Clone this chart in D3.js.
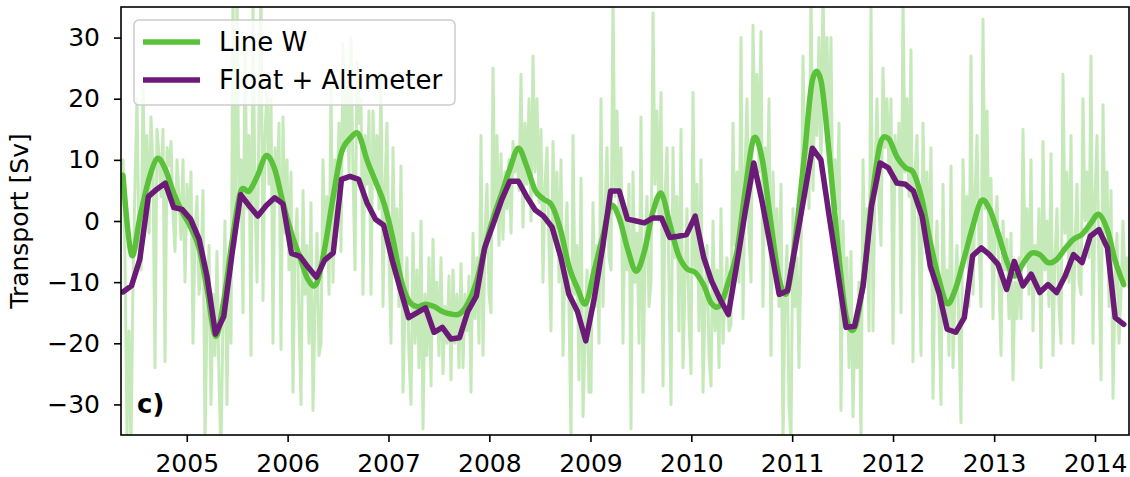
<!DOCTYPE html>
<html>
<head>
<meta charset="utf-8">
<script src="https://cdn.jsdelivr.net/npm/d3@7"></script>
<style>
  body { margin: 0; background: #fff; }
  svg { display: block; font-family: "DejaVu Sans", sans-serif; }
</style>
</head>
<body>
<div id="chart"></div>
<script>
// monthly series, May 2004 .. Apr 2014 (mid-month)
var lineWSmooth = [
  7.5, -5.5, 0.5, 6.5, 10.2, 8.5, 4.5, 1.5,
  -1, -4.5, -11, -18.8, -13, -3, 4.8, 4.9, 7.5, 10.7, 8.5, 3,
  -2, -6, -9.5, -10.3, -4.5, 4, 11.2, 13.5, 14.2, 10, 6.5, 3,
  -2.5, -9.5, -13, -14, -13.6, -14, -14.8, -15.2, -15.2, -13.5, -10, -4.5,
  0.5, 4.5, 8.5, 11.9, 9, 5, 3.6, 2.5, -1.5, -7.4, -11, -13.5,
  -8, -2.5, 2.5, 0.5, -4.5, -8.2, -5, 1.5, 4.5, -0.5, -5.5, -7.8,
  -8.4, -10.5, -13.5, -13.8, -10, -5, 5, 13.5, 10, 0, -9.5, -11.5,
  -2, 11, 23, 23, 11, -4, -15.5, -17.5, -10, 3, 12.5, 13.5,
  10.5, 8.7, 7.9, 3.5, -3.5, -9.5, -13.5, -11, -6, -1, 3.3, 2,
  -2, -6.5, -9, -7, -5.3, -5.5, -6.8, -6.3, -4.5, -3, -2.2, -0.5,
  1.1, -1.5, -6.5, -10.4
];
var floatAltimeter = [
  -11.6, -10.6, -6.3, 4.0, 5.2, 6.2, 2.2, 1.9,
  0.3, -3.0, -9.0, -18.5, -15.6, -5.0, 4.3, 2.5, 0.8, 2.5, 3.8, 2.8,
  -5.3, -5.8, -7.5, -9.2, -6.4, -5.2, 6.8, 7.3, 6.8, 3.0, 0.3, -0.7,
  -6.5, -11.5, -15.8, -15.0, -14.2, -18.2, -17.4, -19.3, -19.1, -14.8, -12.3, -4.4,
  -0.5, 3.5, 6.5, 6.5, 4.0, 1.8, 0.8, -1.0, -5.8, -12.0, -14.8, -19.6,
  -12.6, -4.0, 4.9, 4.9, 0.3, 0.0, -0.3, 0.5, 0.5, -2.7, -2.5, -2.2,
  0.8, -6.0, -9.8, -12.8, -15.3, -7.0, 1.5, 9.5, 3.0, -4.3, -12.0, -11.4,
  -3.5, 4.5, 11.9, 10.0, 0.8, -8.4, -17.4, -17.2, -10.6, 2.4, 9.5, 8.7,
  6.2, 6.0, 4.9, 0.8, -7.4, -11.7, -17.7, -18.2, -15.8, -5.7, -4.4, -5.5,
  -7.1, -11.2, -6.6, -10.6, -8.7, -11.7, -10.4, -11.7, -9.0, -5.5, -6.8, -2.5,
  -1.4, -4.4, -15.8, -16.9
];
// roughly weekly Line W transport, 8 May 2004 .. 4 May 2014
var lineWRaw = [
  8, 10, -6, -35, -18,  -37, -10, 6, 20, -4,  -8, 22, 5, 14, -2,  17, 8, -24, 15, 11,
  4, 15, -23, 12, 9,  13, 1, -5, 10, 4,  -3, 10, -10, 6, -1,  8, -20, -2, 4, -12,
  -8, 5, -36, -16, -4,  -30, -12, -22, -5, -26,  -38, -16, 0, -30, -6,  -20, 38, -4, 37, 2,
  10, -15, 30, 2, 14,  -22, 36, 4, -10, 18,  38, -13, 14, 22, 6,  20, -20, 12, 4, 16,
  -21, 17, -2, 10, -8,  8, -28, -4, 2, -16,  -30, 5, -12, -4, -20,  3, -31, -14, -2, -22,
  -20, 10, -6, 4, -12,  22, -10, 10, 4, 16,  -5, 29, 12, 22, 8,  30, 8, -8, 26, 16,
  20, -12, 14, 6, 18,  -12, 18, 6, 14, 2,  24, -14, 6, 16, -6,  -20, 12, -8, 2, -14,
  9, -28, -14, -6, -22,  -30, -2, -20, -8, -24,  0, -34, -12, -22, -6,  -27, -3, -18, -10, -22,
  -6, -25, -14, -20, -9,  -26, -8, -20, -12, -24,  -7, -24, -12, -18, -9,  -28, -2, -16, -6, -20,
  14, -22, -2, 6, -12,  -15, 25, 0, 14, -4,  11, -3, 8, 2, 10,  -2, 13, 8, 12, 5,
  24, -1, 16, 6, 20,  0, 27, 8, 20, 3,  15, -10, 6, 12, -4,  -18, 13, -2, 8, -10,
  10, -22, -6, 3, -14,  -36, 14, -12, -4, -26,  7, -32, -20, -8, -28,  -28, 3, -14, -4, -20,
  20, -14, 2, 12, -6,  -8, 37, 4, 18, 0,  12, -20, 2, -8, 6,  -34, 8, -10, -2, -20,
  17, -28, -6, 4, -14,  -10, 34, 6, 18, 0,  21, -27, 4, 12, -10,  -30, 12, -6, 4, -18,
  15, -24, -10, 2, -16,  -25, 21, -8, 6, -18,  10, -28, -14, -4, -22,  -27, 0, -18, -8, -24,
  2, -20, -12, -6, -18,  -17, 16, -4, 8, -10,  30, -16, 8, 20, -2,  -10, 32, 14, 24, 8,
  31, -14, 12, 2, 20,  -22, 8, -6, 2, -14,  6, -37, -12, -4, -30,  -36, 2, -14, -6, -24,
  -5, 27, 6, 16, 2,  38, 5, 24, 14, 30,  8, 38, 18, 30, 12,  30, -3, 10, 2, 16,
  -31, 0, -14, -6, -24,  -5, -32, -16, -24, -10,  -36, 10, -8, 2, -18,  36, -18, 8, 20, 2,
  -4, 25, 12, 20, 8,  20, -20, 14, 6, 16,  -15, 37, 8, 20, 4,  28, -23, 8, 14, -2,
  -22, 16, -2, 8, -8,  12, -29, -8, 0, -16,  -30, 6, -16, -8, -22,  9, -24, -12, -4, -18,
  -33, 10, -4, 4, -14,  27, -12, 4, 14, -4,  -14, 33, 2, 18, -6,  7, -16, -2, 4, -10,
  -22, 0, -8, -3, -16,  -2, -26, -10, -16, -6,  -16, 15, -6, 2, -12,  10, -18, -4, -10, 2,
  -24, 13, -8, 0, -14,  11, -22, -6, 2, -14,  -20, 24, -2, 8, -10,  14, -20, -4, 6, -10,
  -12, 20, 0, 8, -6,  27, -20, 4, 14, -8,  -26, 19, -2, 8, -14,  5, -29, -10, -2, -20,
  -12, 0, -10, -6, -11
];
var rawStart = Date.UTC(2004, 4, 8);
var rawEnd = Date.UTC(2014, 4, 4);
var yTicks = [-30, -20, -10, 0, 10, 20, 30];
var seriesNames = ['Line W', 'Float + Altimeter'];

var width = 1130, height = 477;
var plot = { left: 121, right: 1129, top: 7, bottom: 435 };
var green = '#5bc13a', purple = '#6b1a77';

var svg = d3.select('#chart').append('svg')
    .attr('width', width).attr('height', height);

var x = d3.scaleUtc().domain([rawStart, rawEnd]).range([plot.left, plot.right]);
var y = d3.scaleLinear().domain([-35, 35]).range([plot.bottom, plot.top]);

// month centres
var months = d3.utcMonth.range(new Date(Date.UTC(2004, 4, 1)), new Date(Date.UTC(2014, 4, 1)))
    .map(function(m) { return d3.utcDay.offset(m, 14); });
var rawDates = lineWRaw.map(function(d, i) {
    return new Date(rawStart + i * (rawEnd - rawStart) / (lineWRaw.length - 1));
});

svg.append('clipPath').attr('id', 'clip').append('rect')
    .attr('x', plot.left).attr('y', plot.top)
    .attr('width', plot.right - plot.left).attr('height', plot.bottom - plot.top);

var g = svg.append('g').attr('clip-path', 'url(#clip)');

var rawLine = d3.line()
    .x(function(d, i) { return x(rawDates[i]); })
    .y(function(d) { return y(d); });
g.append('path').datum(lineWRaw)
    .attr('d', rawLine)
    .attr('fill', 'none').attr('stroke', green).attr('stroke-opacity', 0.35)
    .attr('stroke-width', 3).attr('stroke-linejoin', 'round');

var smoothLine = d3.line()
    .x(function(d, i) { return x(months[i]); })
    .y(function(d) { return y(d); })
    .curve(d3.curveCatmullRom.alpha(0));
g.append('path').datum(lineWSmooth)
    .attr('d', smoothLine)
    .attr('fill', 'none').attr('stroke', green).attr('stroke-width', 5.5)
    .attr('stroke-linecap', 'round');

var purpleLine = d3.line()
    .x(function(d, i) { return x(months[i]); })
    .y(function(d) { return y(d); });
g.append('path').datum(floatAltimeter)
    .attr('d', purpleLine)
    .attr('fill', 'none').attr('stroke', purple).attr('stroke-width', 5.5)
    .attr('stroke-linejoin', 'round').attr('stroke-linecap', 'round');

// axes
var xAxis = svg.append('g')
    .attr('transform', 'translate(0,' + plot.bottom + ')')
    .call(d3.axisBottom(x).ticks(d3.utcYear.every(1)).tickFormat(d3.utcFormat('%Y'))
        .tickSize(7).tickPadding(12));
var yAxis = svg.append('g')
    .attr('transform', 'translate(' + plot.left + ',0)')
    .call(d3.axisLeft(y).tickValues(yTicks).tickSize(7).tickPadding(14));

[xAxis, yAxis].forEach(function(a) {
    a.select('.domain').remove();
    a.selectAll('line').attr('stroke', '#000').attr('stroke-width', 1.6);
    a.selectAll('text').attr('fill', '#000')
        .style('font-family', '"DejaVu Sans", sans-serif').style('font-size', '25px');
});

svg.append('rect')
    .attr('x', plot.left).attr('y', plot.top)
    .attr('width', plot.right - plot.left).attr('height', plot.bottom - plot.top)
    .attr('fill', 'none').attr('stroke', '#000').attr('stroke-width', 1.6);

svg.append('text')
    .attr('transform', 'translate(28,' + ((plot.top + plot.bottom) / 2) + ') rotate(-90)')
    .attr('text-anchor', 'middle')
    .style('font-size', '25px')
    .text('Transport [Sv]');

svg.append('text')
    .attr('x', 137).attr('y', 413)
    .style('font-size', '26px').style('font-weight', 'bold')
    .text('c)');

// legend
var legend = svg.append('g');
legend.append('rect')
    .attr('x', 134).attr('y', 20).attr('width', 321).attr('height', 85).attr('rx', 5)
    .attr('fill', '#fff').attr('fill-opacity', 0.8)
    .attr('stroke', '#cccccc').attr('stroke-width', 1.5);
var legendColors = [green, purple];
seriesNames.forEach(function(name, i) {
    var ly = 42 + i * 38;
    legend.append('line')
        .attr('x1', 143).attr('x2', 200).attr('y1', ly).attr('y2', ly)
        .attr('stroke', legendColors[i]).attr('stroke-width', 5.5);
    legend.append('text')
        .attr('x', 219).attr('y', ly).attr('dy', '0.35em')
        .style('font-size', '26px')
        .text(name);
});
</script>
</body>
</html>
